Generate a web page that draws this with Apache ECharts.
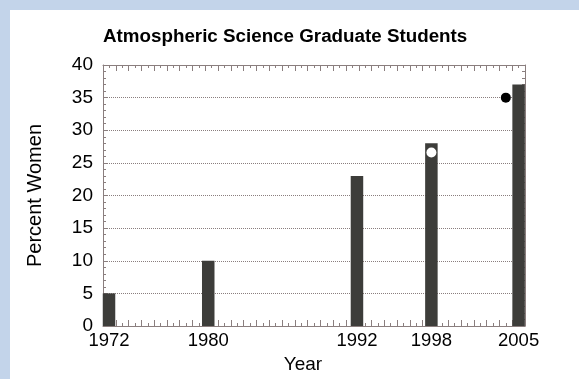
<!DOCTYPE html>
<html>
<head>
<meta charset="utf-8">
<script src="https://cdn.jsdelivr.net/npm/echarts@6/dist/echarts.min.js"></script>
<style>
  html, body { margin: 0; padding: 0; background: #c3d4ea; }
  #chart { position: absolute; left: 10px; top: 10px; width: 569px; height: 369px; background: #fff; }
</style>
</head>
<body>
<div id="chart"></div>
<script>
// bar positions (bars sit beside their year tick)
var barYears = [1972.47, 1980.23, 1991.86, 1997.68, 2004.5];
var yearLabels = ['1972', '1980', '1992', '1998', '2005'];
var percentWomen = [5, 10, 23, 28, 37];
var openDot = [1997.68, 26.6];
var filledDot = [2003.5, 35];

var axisColor = '#8a7e7e';
var font = 'Liberation Sans, Arial, Helvetica, sans-serif';

var chart = echarts.init(document.getElementById('chart'));

var barData = barYears.map(function (x, i) { return [x, percentWomen[i]]; });

function xAxisBase(pos) {
    return {
        type: 'value',
        position: pos,
        min: 1972,
        max: 2005,
        interval: 1,
        axisLine: { show: true, onZero: false, lineStyle: { color: axisColor, width: 1 } },
        axisTick: { show: true, inside: true, length: 6, lineStyle: { color: axisColor } },
        minorTick: { show: true, splitNumber: 2, length: 3, lineStyle: { color: axisColor } },
        splitLine: { show: false },
        axisLabel: { show: false }
    };
}

function yAxisBase(pos) {
    return {
        type: 'value',
        position: pos,
        min: 0,
        max: 40,
        interval: 5,
        axisLine: { show: true, lineStyle: { color: axisColor, width: 1 } },
        axisTick: { show: true, inside: true, length: 5, lineStyle: { color: axisColor } },
        minorTick: { show: true, splitNumber: 5, length: 3, lineStyle: { color: axisColor } },
        splitLine: { show: false },
        axisLabel: { show: false }
    };
}

var xBottom = xAxisBase('bottom');
xBottom.axisLabel = {
    show: true,
    customValues: barYears,
    formatter: function (v) {
        var i = barYears.indexOf(v);
        return i >= 0 ? yearLabels[i] : '';
    },
    color: '#000',
    fontSize: 18.5,
    fontFamily: font,
    margin: 5
};
xBottom.name = 'Year';
xBottom.nameLocation = 'middle';
xBottom.nameGap = 28;
xBottom.nameTextStyle = { color: '#000', fontSize: 19, fontFamily: font, padding: [0, 22, 0, 0] };

var xTop = xAxisBase('top');

var yLeft = yAxisBase('left');
yLeft.splitLine = { show: true, lineStyle: { color: axisColor, type: [1, 1], width: 1 } };
yLeft.axisLabel = { show: true, color: '#000', fontSize: 19, fontFamily: font, margin: 10 };
yLeft.name = 'Percent Women';
yLeft.nameLocation = 'middle';
yLeft.nameGap = 58;
yLeft.nameTextStyle = { color: '#000', fontSize: 20, fontFamily: font };

var yRight = yAxisBase('right');

var option = {
    animation: false,
    title: {
        text: 'Atmospheric Science Graduate Students',
        left: 88,
        top: 12,
        textStyle: { color: '#000', fontSize: 18.8, fontWeight: 'bold', fontFamily: font }
    },
    grid: { left: 93, right: 54, top: 55, bottom: 53 },
    xAxis: [xBottom, xTop],
    yAxis: [yLeft, yRight],
    series: [
        {
            type: 'bar',
            data: barData,
            barWidth: 12.5,
            itemStyle: { color: '#3d3d3a' },
            z: 1
        },
        {
            type: 'scatter',
            data: [openDot],
            symbolSize: 10,
            itemStyle: { color: '#fff', opacity: 1 },
            z: 5
        },
        {
            type: 'scatter',
            data: [filledDot],
            symbolSize: 10,
            itemStyle: { color: '#000', opacity: 1 },
            z: 5
        }
    ]
};

chart.setOption(option);
window.addEventListener('resize', chart.resize);
</script>
</body>
</html>
